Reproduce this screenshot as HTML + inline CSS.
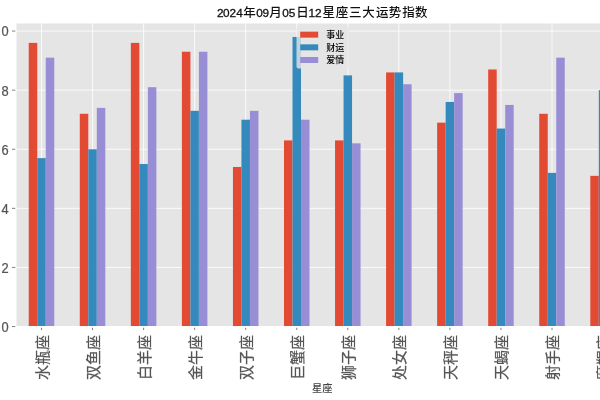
<!DOCTYPE html>
<html><head><meta charset="utf-8"><title>12星座三大运势指数</title>
<style>
html,body{margin:0;padding:0;background:#fff;overflow:hidden}
svg{display:block;font-family:'Liberation Sans','WenQuanYi Zen Hei','Noto Sans CJK SC',sans-serif;will-change:transform}
</style></head><body>
<svg width="600" height="400" viewBox="0 0 600 400">
<rect width="600" height="400" fill="#fff"/>
<rect x="16.0" y="23.0" width="604.0" height="303.55" fill="#E5E5E5"/>
<line x1="16.0" x2="620" y1="326.55" y2="326.55" stroke="#fff" stroke-width="0.8"/>
<line x1="16.0" x2="620" y1="267.45" y2="267.45" stroke="#fff" stroke-width="0.8"/>
<line x1="16.0" x2="620" y1="208.35" y2="208.35" stroke="#fff" stroke-width="0.8"/>
<line x1="16.0" x2="620" y1="149.25" y2="149.25" stroke="#fff" stroke-width="0.8"/>
<line x1="16.0" x2="620" y1="90.15" y2="90.15" stroke="#fff" stroke-width="0.8"/>
<line x1="16.0" x2="620" y1="31.05" y2="31.05" stroke="#fff" stroke-width="0.8"/>
<line x1="41.50" x2="41.50" y1="23.0" y2="326.55" stroke="#fff" stroke-width="0.8"/>
<line x1="92.55" x2="92.55" y1="23.0" y2="326.55" stroke="#fff" stroke-width="0.8"/>
<line x1="143.60" x2="143.60" y1="23.0" y2="326.55" stroke="#fff" stroke-width="0.8"/>
<line x1="194.65" x2="194.65" y1="23.0" y2="326.55" stroke="#fff" stroke-width="0.8"/>
<line x1="245.70" x2="245.70" y1="23.0" y2="326.55" stroke="#fff" stroke-width="0.8"/>
<line x1="296.75" x2="296.75" y1="23.0" y2="326.55" stroke="#fff" stroke-width="0.8"/>
<line x1="347.80" x2="347.80" y1="23.0" y2="326.55" stroke="#fff" stroke-width="0.8"/>
<line x1="398.85" x2="398.85" y1="23.0" y2="326.55" stroke="#fff" stroke-width="0.8"/>
<line x1="449.90" x2="449.90" y1="23.0" y2="326.55" stroke="#fff" stroke-width="0.8"/>
<line x1="500.95" x2="500.95" y1="23.0" y2="326.55" stroke="#fff" stroke-width="0.8"/>
<line x1="552.00" x2="552.00" y1="23.0" y2="326.55" stroke="#fff" stroke-width="0.8"/>
<line x1="603.05" x2="603.05" y1="23.0" y2="326.55" stroke="#fff" stroke-width="0.8"/>
<rect x="28.74" y="42.87" width="8.51" height="283.68" fill="#E24A33"/>
<rect x="37.25" y="158.12" width="8.51" height="168.44" fill="#348ABD"/>
<rect x="45.75" y="57.65" width="8.51" height="268.90" fill="#988ED5"/>
<rect x="79.79" y="113.79" width="8.51" height="212.76" fill="#E24A33"/>
<rect x="88.30" y="149.25" width="8.51" height="177.30" fill="#348ABD"/>
<rect x="96.80" y="107.88" width="8.51" height="218.67" fill="#988ED5"/>
<rect x="130.84" y="42.87" width="8.51" height="283.68" fill="#E24A33"/>
<rect x="139.35" y="164.03" width="8.51" height="162.53" fill="#348ABD"/>
<rect x="147.85" y="87.20" width="8.51" height="239.35" fill="#988ED5"/>
<rect x="181.89" y="51.73" width="8.51" height="274.82" fill="#E24A33"/>
<rect x="190.40" y="110.84" width="8.51" height="215.72" fill="#348ABD"/>
<rect x="198.90" y="51.73" width="8.51" height="274.82" fill="#988ED5"/>
<rect x="232.94" y="166.98" width="8.51" height="159.57" fill="#E24A33"/>
<rect x="241.45" y="119.70" width="8.51" height="206.85" fill="#348ABD"/>
<rect x="249.95" y="110.84" width="8.51" height="215.72" fill="#988ED5"/>
<rect x="283.99" y="140.39" width="8.51" height="186.16" fill="#E24A33"/>
<rect x="292.50" y="36.96" width="8.51" height="289.59" fill="#348ABD"/>
<rect x="301.00" y="119.70" width="8.51" height="206.85" fill="#988ED5"/>
<rect x="335.04" y="140.39" width="8.51" height="186.16" fill="#E24A33"/>
<rect x="343.55" y="75.38" width="8.51" height="251.18" fill="#348ABD"/>
<rect x="352.05" y="143.34" width="8.51" height="183.21" fill="#988ED5"/>
<rect x="386.09" y="72.42" width="8.51" height="254.13" fill="#E24A33"/>
<rect x="394.60" y="72.42" width="8.51" height="254.13" fill="#348ABD"/>
<rect x="403.10" y="84.24" width="8.51" height="242.31" fill="#988ED5"/>
<rect x="437.14" y="122.66" width="8.51" height="203.90" fill="#E24A33"/>
<rect x="445.65" y="101.97" width="8.51" height="224.58" fill="#348ABD"/>
<rect x="454.15" y="93.10" width="8.51" height="233.45" fill="#988ED5"/>
<rect x="488.19" y="69.47" width="8.51" height="257.08" fill="#E24A33"/>
<rect x="496.70" y="128.56" width="8.51" height="197.99" fill="#348ABD"/>
<rect x="505.20" y="104.93" width="8.51" height="221.62" fill="#988ED5"/>
<rect x="539.24" y="113.79" width="8.51" height="212.76" fill="#E24A33"/>
<rect x="547.75" y="172.89" width="8.51" height="153.66" fill="#348ABD"/>
<rect x="556.25" y="57.65" width="8.51" height="268.90" fill="#988ED5"/>
<rect x="590.29" y="175.85" width="8.51" height="150.70" fill="#E24A33"/>
<rect x="598.80" y="90.15" width="8.51" height="236.40" fill="#348ABD"/>
<rect x="607.30" y="119.70" width="8.51" height="206.85" fill="#988ED5"/>
<line x1="16.0" x2="620" y1="326.55" y2="326.55" stroke="#fff" stroke-width="1"/>
<line x1="16.0" x2="620" y1="23.00" y2="23.00" stroke="#fff" stroke-width="1"/>
<line x1="16.0" x2="16.0" y1="23.00" y2="326.55" stroke="#fff" stroke-width="1"/>
<line x1="12.0" x2="15.3" y1="326.55" y2="326.55" stroke="#555" stroke-width="0.75"/>
<text transform="translate(8.6,331.95) scale(0.9,1)" text-anchor="end" font-size="14.3" fill="#555" stroke="#555" stroke-width="0.25" font-family="Liberation Sans,sans-serif">0</text>
<line x1="12.0" x2="15.3" y1="267.45" y2="267.45" stroke="#555" stroke-width="0.75"/>
<text transform="translate(8.6,272.85) scale(0.9,1)" text-anchor="end" font-size="14.3" fill="#555" stroke="#555" stroke-width="0.25" font-family="Liberation Sans,sans-serif">2</text>
<line x1="12.0" x2="15.3" y1="208.35" y2="208.35" stroke="#555" stroke-width="0.75"/>
<text transform="translate(8.6,213.75) scale(0.9,1)" text-anchor="end" font-size="14.3" fill="#555" stroke="#555" stroke-width="0.25" font-family="Liberation Sans,sans-serif">4</text>
<line x1="12.0" x2="15.3" y1="149.25" y2="149.25" stroke="#555" stroke-width="0.75"/>
<text transform="translate(8.6,154.65) scale(0.9,1)" text-anchor="end" font-size="14.3" fill="#555" stroke="#555" stroke-width="0.25" font-family="Liberation Sans,sans-serif">6</text>
<line x1="12.0" x2="15.3" y1="90.15" y2="90.15" stroke="#555" stroke-width="0.75"/>
<text transform="translate(8.6,95.55) scale(0.9,1)" text-anchor="end" font-size="14.3" fill="#555" stroke="#555" stroke-width="0.25" font-family="Liberation Sans,sans-serif">8</text>
<line x1="12.0" x2="15.3" y1="31.05" y2="31.05" stroke="#555" stroke-width="0.75"/>
<text transform="translate(8.6,36.45) scale(0.9,1)" text-anchor="end" font-size="14.3" fill="#555" stroke="#555" stroke-width="0.25" font-family="Liberation Sans,sans-serif"><tspan x="-9.5">1</tspan><tspan x="0">0</tspan></text>
<line x1="41.50" x2="41.50" y1="327.75" y2="330.05" stroke="#555" stroke-width="0.75"/>
<text transform="translate(47.50,335.05) rotate(-90)" text-anchor="end" font-size="15" fill="#555" stroke="#555" stroke-width="0.2" font-family="'Noto Sans CJK SC','WenQuanYi Zen Hei',sans-serif">水瓶座</text>
<line x1="92.55" x2="92.55" y1="327.75" y2="330.05" stroke="#555" stroke-width="0.75"/>
<text transform="translate(98.55,335.05) rotate(-90)" text-anchor="end" font-size="15" fill="#555" stroke="#555" stroke-width="0.2" font-family="'Noto Sans CJK SC','WenQuanYi Zen Hei',sans-serif">双鱼座</text>
<line x1="143.60" x2="143.60" y1="327.75" y2="330.05" stroke="#555" stroke-width="0.75"/>
<text transform="translate(149.60,335.05) rotate(-90)" text-anchor="end" font-size="15" fill="#555" stroke="#555" stroke-width="0.2" font-family="'Noto Sans CJK SC','WenQuanYi Zen Hei',sans-serif">白羊座</text>
<line x1="194.65" x2="194.65" y1="327.75" y2="330.05" stroke="#555" stroke-width="0.75"/>
<text transform="translate(200.65,335.05) rotate(-90)" text-anchor="end" font-size="15" fill="#555" stroke="#555" stroke-width="0.2" font-family="'Noto Sans CJK SC','WenQuanYi Zen Hei',sans-serif">金牛座</text>
<line x1="245.70" x2="245.70" y1="327.75" y2="330.05" stroke="#555" stroke-width="0.75"/>
<text transform="translate(251.70,335.05) rotate(-90)" text-anchor="end" font-size="15" fill="#555" stroke="#555" stroke-width="0.2" font-family="'Noto Sans CJK SC','WenQuanYi Zen Hei',sans-serif">双子座</text>
<line x1="296.75" x2="296.75" y1="327.75" y2="330.05" stroke="#555" stroke-width="0.75"/>
<text transform="translate(302.75,335.05) rotate(-90)" text-anchor="end" font-size="15" fill="#555" stroke="#555" stroke-width="0.2" font-family="'Noto Sans CJK SC','WenQuanYi Zen Hei',sans-serif">巨蟹座</text>
<line x1="347.80" x2="347.80" y1="327.75" y2="330.05" stroke="#555" stroke-width="0.75"/>
<text transform="translate(353.80,335.05) rotate(-90)" text-anchor="end" font-size="15" fill="#555" stroke="#555" stroke-width="0.2" font-family="'Noto Sans CJK SC','WenQuanYi Zen Hei',sans-serif">狮子座</text>
<line x1="398.85" x2="398.85" y1="327.75" y2="330.05" stroke="#555" stroke-width="0.75"/>
<text transform="translate(404.85,335.05) rotate(-90)" text-anchor="end" font-size="15" fill="#555" stroke="#555" stroke-width="0.2" font-family="'Noto Sans CJK SC','WenQuanYi Zen Hei',sans-serif">处女座</text>
<line x1="449.90" x2="449.90" y1="327.75" y2="330.05" stroke="#555" stroke-width="0.75"/>
<text transform="translate(455.90,335.05) rotate(-90)" text-anchor="end" font-size="15" fill="#555" stroke="#555" stroke-width="0.2" font-family="'Noto Sans CJK SC','WenQuanYi Zen Hei',sans-serif">天秤座</text>
<line x1="500.95" x2="500.95" y1="327.75" y2="330.05" stroke="#555" stroke-width="0.75"/>
<text transform="translate(506.95,335.05) rotate(-90)" text-anchor="end" font-size="15" fill="#555" stroke="#555" stroke-width="0.2" font-family="'Noto Sans CJK SC','WenQuanYi Zen Hei',sans-serif">天蝎座</text>
<line x1="552.00" x2="552.00" y1="327.75" y2="330.05" stroke="#555" stroke-width="0.75"/>
<text transform="translate(558.00,335.05) rotate(-90)" text-anchor="end" font-size="15" fill="#555" stroke="#555" stroke-width="0.2" font-family="'Noto Sans CJK SC','WenQuanYi Zen Hei',sans-serif">射手座</text>
<line x1="603.05" x2="603.05" y1="327.75" y2="330.05" stroke="#555" stroke-width="0.75"/>
<text transform="translate(609.05,335.05) rotate(-90)" text-anchor="end" font-size="15" fill="#555" stroke="#555" stroke-width="0.2" font-family="'Noto Sans CJK SC','WenQuanYi Zen Hei',sans-serif">摩羯座</text>
<rect x="296.5" y="26.6" width="52.3" height="41.9" rx="2" fill="#E5E5E5" fill-opacity="0.8" />
<rect x="300.2" y="31.65" width="18" height="6" fill="#E24A33"/>
<text x="326.3" y="37.85" font-size="9" fill="#000" font-weight="500" font-family="'Noto Sans CJK SC','WenQuanYi Zen Hei',sans-serif">事业</text>
<rect x="300.2" y="44.33" width="18" height="6" fill="#348ABD"/>
<text x="326.3" y="50.53" font-size="9" fill="#000" font-weight="500" font-family="'Noto Sans CJK SC','WenQuanYi Zen Hei',sans-serif">财运</text>
<rect x="300.2" y="57.01" width="18" height="6" fill="#988ED5"/>
<text x="326.3" y="63.21" font-size="9" fill="#000" font-weight="500" font-family="'Noto Sans CJK SC','WenQuanYi Zen Hei',sans-serif">爱情</text>
<text fill="#111" font-weight="500" font-family="'Noto Sans CJK SC','WenQuanYi Zen Hei',sans-serif"><tspan x="216.90" y="16.5" font-size="11.8" font-family="Liberation Sans,sans-serif" font-weight="normal" stroke="#111" stroke-width="0.3">2</tspan><tspan x="223.00" y="16.5" font-size="11.8" font-family="Liberation Sans,sans-serif" font-weight="normal" stroke="#111" stroke-width="0.3">0</tspan><tspan x="229.45" y="16.5" font-size="11.8" font-family="Liberation Sans,sans-serif" font-weight="normal" stroke="#111" stroke-width="0.3">2</tspan><tspan x="236.15" y="16.5" font-size="11.8" font-family="Liberation Sans,sans-serif" font-weight="normal" stroke="#111" stroke-width="0.3">4</tspan><tspan x="243.15" y="16.6" font-size="12.5">年</tspan><tspan x="256.30" y="16.5" font-size="11.8" font-family="Liberation Sans,sans-serif" font-weight="normal" stroke="#111" stroke-width="0.3">0</tspan><tspan x="262.60" y="16.5" font-size="11.8" font-family="Liberation Sans,sans-serif" font-weight="normal" stroke="#111" stroke-width="0.3">9</tspan><tspan x="269.25" y="16.6" font-size="12.5">月</tspan><tspan x="282.20" y="16.5" font-size="11.8" font-family="Liberation Sans,sans-serif" font-weight="normal" stroke="#111" stroke-width="0.3">0</tspan><tspan x="288.75" y="16.5" font-size="11.8" font-family="Liberation Sans,sans-serif" font-weight="normal" stroke="#111" stroke-width="0.3">5</tspan><tspan x="296.25" y="16.6" font-size="12.5">日</tspan><tspan x="308.55" y="16.5" font-size="11.8" font-family="Liberation Sans,sans-serif" font-weight="normal" stroke="#111" stroke-width="0.3">1</tspan><tspan x="314.95" y="16.5" font-size="11.8" font-family="Liberation Sans,sans-serif" font-weight="normal" stroke="#111" stroke-width="0.3">2</tspan><tspan x="322.60" y="16.6" font-size="12.5">星</tspan><tspan x="335.75" y="16.6" font-size="12.5">座</tspan><tspan x="348.90" y="16.6" font-size="12.5">三</tspan><tspan x="362.35" y="16.6" font-size="12.5">大</tspan><tspan x="375.90" y="16.6" font-size="12.5">运</tspan><tspan x="388.75" y="16.6" font-size="12.5">势</tspan><tspan x="402.20" y="16.6" font-size="12.5">指</tspan><tspan x="415.00" y="16.6" font-size="12.5">数</tspan></text>
<text x="322.3" y="391.6" text-anchor="middle" font-size="10.2" fill="#444" font-weight="500" font-family="'Noto Sans CJK SC','WenQuanYi Zen Hei',sans-serif">星座</text>
</svg>
</body></html>
